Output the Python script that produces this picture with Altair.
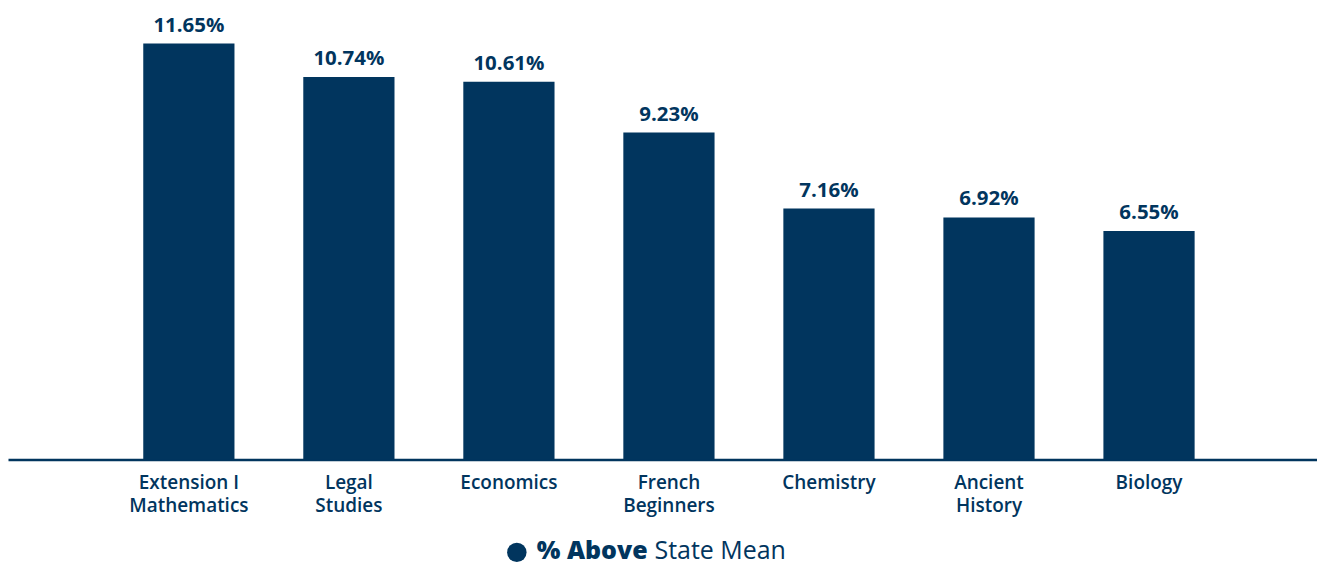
import altair as alt
import pandas as pd

subjects = ["Extension I\nMathematics", "Legal\nStudies", "Economics", "French\nBeginners",
            "Chemistry", "Ancient\nHistory", "Biology"]
values = [11.65, 10.74, 10.61, 9.23, 7.16, 6.92, 6.55]
legend_bold = "% Above"
legend_rest = "State Mean"

NAVY = "#01355E"
df = pd.DataFrame({"subject": subjects, "value": values})

W, H = 1312, 452
ymin, ymax = 0.33, 12.6

x = alt.X("subject:N", sort=subjects,
          scale=alt.Scale(paddingInner=0.43, paddingOuter=0.805, align=0.525),
          axis=alt.Axis(title=None, labelAngle=0, ticks=False, grid=False,
                        domainColor=NAVY, domainWidth=2.5,
                        labelFont="Open Sans", labelFontSize=19, labelFontWeight=600,
                        labelColor=NAVY, labelLineHeight=23, labelPadding=14,
                        labelBaseline="top",
                        labelExpr="split(datum.label, '\\n')"))
y = alt.Y("value:Q", scale=alt.Scale(domain=[ymin, ymax], zero=False, nice=False),
          axis=None)

base = alt.Chart(df).encode(x=x, y=y)
bars = base.mark_bar(color=NAVY, clip=True)
labels = base.transform_calculate(
    lab="format(datum.value, '.2f') + '%'"
).mark_text(font="Open Sans", fontSize=20.5, fontWeight="bold", color=NAVY,
            baseline="alphabetic", dy=-12).encode(text="lab:N")

leg_df = pd.DataFrame({"a": [legend_bold], "b": [legend_rest]})
leg_dot = alt.Chart(leg_df).mark_circle(color=NAVY, size=380, opacity=1).encode(
    x=alt.value(510), y=alt.value(545))
leg_t1 = alt.Chart(leg_df).mark_text(font="Open Sans", fontSize=25, fontWeight=800,
                                     color=NAVY, align="left", baseline="alphabetic").encode(
    x=alt.value(530), y=alt.value(552), text="a:N")
leg_t2 = alt.Chart(leg_df).mark_text(font="Open Sans", fontSize=25, fontWeight="normal",
                                     color=NAVY, align="left", baseline="alphabetic").encode(
    x=alt.value(648), y=alt.value(552), text="b:N")

chart = alt.layer(bars, labels, leg_dot, leg_t1, leg_t2).properties(
    width=W, height=H, padding=0
).configure_view(stroke=None)

chart.save("out.html", embed_options={"renderer": "svg", "actions": False})
